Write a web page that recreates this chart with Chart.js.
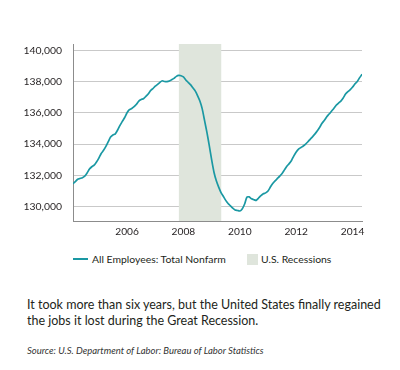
<!DOCTYPE html>
<html>
<head>
<meta charset="utf-8">
<script src="https://cdn.jsdelivr.net/npm/chart.js@4/dist/chart.umd.min.js"></script>
<style>
  html, body { margin: 0; padding: 0; background: #fff; }
  #wrap { position: relative; width: 400px; height: 370px; overflow: hidden; font-family: Lato, sans-serif; color: #231f20; }
  #box { position: absolute; left: 0; top: 0; width: 400px; height: 240px; }
  .leg { position: absolute; top: 252px; height: 14px; font-size: 10.4px; line-height: 14px; white-space: nowrap; }
  .leg .ln { display: inline-block; width: 15px; height: 2px; vertical-align: middle; margin-right: 4px; position: relative; top: -1px; }
  .leg .sq { display: inline-block; width: 11px; height: 11px; vertical-align: middle; margin-right: 3px; position: relative; top: -1px; }
  #caption { position: absolute; left: 27px; top: 297px; width: 370px; font-size: 12.5px; line-height: 15.5px; }
  #source { position: absolute; left: 27px; top: 345px; font-style: italic; font-size: 9.5px; color: #333; }
</style>
</head>
<body>
<div id="wrap">
  <div id="box"><canvas id="c"></canvas></div>
  <div class="leg" style="left:73px"><span class="ln" id="ln0"></span><span id="lt0"></span></div>
  <div class="leg" style="left:247px"><span class="sq" id="sq1"></span><span id="lt1"></span></div>
  <div id="caption">It took more than six years, but the United States finally regained the jobs it lost during the Great Recession.</div>
  <div id="source">Source: U.S. Department of Labor: Bureau of Labor Statistics</div>
</div>
<script>
// Monthly series starts February 2004 and ends May 2014 (thousands of employees)
const startYear = 2004;
const startMonth = 2;
const employment = [
  131460, 131600, 131750, 131800, 131850, 131950, 132150, 132400, 132550, 132650, 132850,
  133100, 133400, 133600, 133850, 134150, 134450, 134580, 134650, 134900, 135200, 135450, 135700,
  136000, 136200, 136280, 136400, 136550, 136750, 136850, 136900, 137050, 137200, 137420, 137550,
  137700, 137820, 137950, 138050, 138000, 137990, 138030, 138120, 138200, 138330, 138390, 138370,
  138290, 138100, 137950, 137800, 137600, 137400, 137100, 136750, 136250, 135500, 134750, 133900,
  133000, 132200, 131650, 131250, 130900, 130650, 130400, 130200, 130050, 129900, 129780, 129750,
  129720, 129850, 130150, 130600, 130620, 130500, 130440, 130400, 130550, 130700, 130820, 130880,
  131000, 131250, 131480, 131650, 131800, 131950, 132120, 132350, 132580, 132750, 132950, 133250,
  133500, 133680, 133780, 133880, 134000, 134150, 134320, 134480, 134650, 134850, 135080, 135330,
  135520, 135750, 135920, 136100, 136280, 136480, 136620, 136750, 136950, 137200, 137350, 137480,
  137650, 137850, 138000, 138250, 138460
];
const recession = [2007.83, 2009.35]; // recession band as drawn in the picture
const xTickLabels = [2006, 2008, 2010, 2012, 2014];
const yTickLabels = [130000, 132000, 134000, 136000, 138000, 140000];
const seriesNames = ['All Employees: Total Nonfarm', 'U.S. Recessions'];

const yMin = 129080, yMax = 140400;
const teal = '#1a98a3';
const shade = '#dfe5dc';

const points = employment.map((v, i) => ({ x: startYear + (startMonth - 1 + i) / 12, y: v }));
const xMin = points[0].x, xMax = points[points.length - 1].x;

// HTML legend
document.getElementById('lt0').textContent = seriesNames[0];
document.getElementById('lt1').textContent = seriesNames[1];
document.getElementById('ln0').style.background = teal;
document.getElementById('sq1').style.background = shade;

const FONT = 'Lato, sans-serif';
Chart.defaults.font.family = FONT;
Chart.defaults.color = '#231f20';

new Chart(document.getElementById('c'), {
  type: 'line',
  data: {
    datasets: [
      {
        label: seriesNames[0],
        data: points,
        borderColor: teal,
        backgroundColor: teal,
        borderWidth: 1.7,
        pointRadius: 0,
        tension: 0.2,
        fill: false
      },
      {
        label: seriesNames[1],
        data: [{ x: recession[0], y: yMax }, { x: recession[1], y: yMax }],
        borderWidth: 0,
        borderColor: shade,
        backgroundColor: shade,
        pointRadius: 0,
        fill: 'start',
        tension: 0
      }
    ]
  },
  options: {
    responsive: true,
    maintainAspectRatio: false,
    animation: false,
    layout: { padding: { left: 0, right: 38, top: 44, bottom: 0 } },
    plugins: {
      tooltip: { enabled: false },
      legend: { display: false }
    },
    scales: {
      x: {
        type: 'linear',
        min: xMin,
        max: xMax,
        afterBuildTicks: s => { s.ticks = xTickLabels.map(v => ({ value: v })); },
        afterFit: s => { s.height = 19; },
        grid: { display: false, drawTicks: false },
        border: { display: true, color: '#8c8c8c', width: 1 },
        ticks: { padding: 5, color: '#231f20', font: { size: 10.2 }, callback: v => String(v), maxRotation: 0, autoSkip: false }
      },
      y: {
        min: yMin,
        max: yMax,
        afterBuildTicks: s => { s.ticks = yTickLabels.map(v => ({ value: v })); },
        afterFit: s => { s.width = 73; },
        grid: { color: '#c9c9c9', lineWidth: 1, drawTicks: false },
        border: { display: true, color: '#8c8c8c', width: 1 },
        ticks: { padding: 11, color: '#231f20', font: { size: 10.4 }, callback: v => v.toLocaleString('en-US') }
      }
    }
  }
});
</script>
</body>
</html>
